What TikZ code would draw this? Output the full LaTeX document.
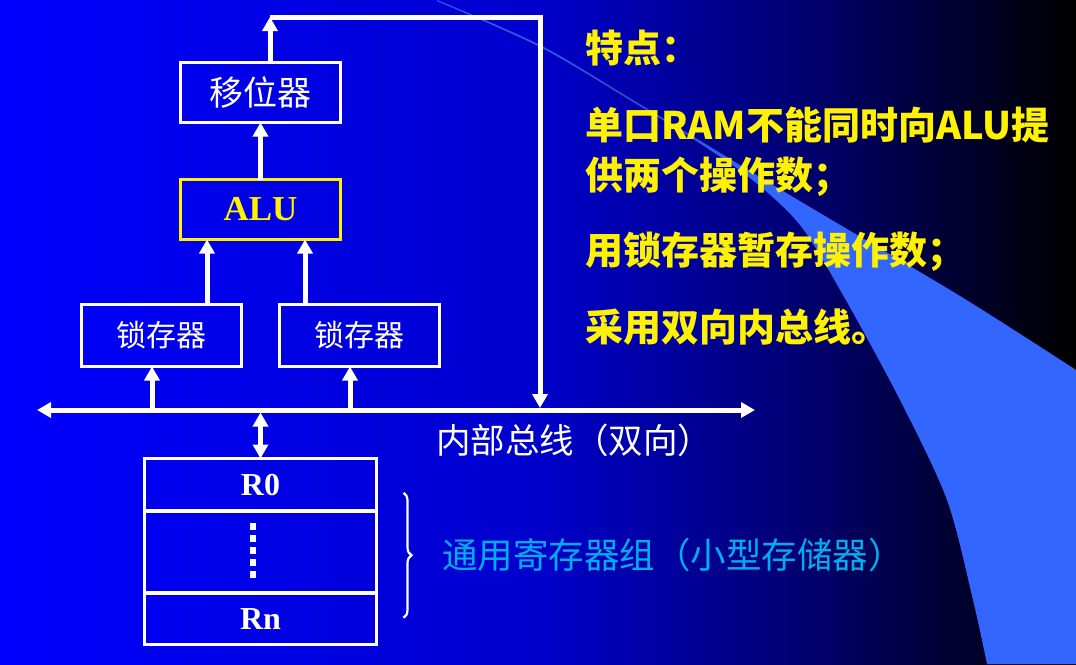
\documentclass[tikz,border=0pt]{standalone}
\usepackage{fontspec}
\setmainfont{Liberation Serif}
\newfontfamily\cjk{Noto Sans CJK SC}
\usetikzlibrary{positioning,arrows.meta,decorations.pathreplacing}

\pgfdeclarehorizontalshading{bgshade}{100bp}{rgb(0bp)=(0,0,1); rgb(25bp)=(0,0,1); rgb(50bp)=(0,0,0.8); rgb(62bp)=(0,0,0.45); rgb(72bp)=(0,0,0.1); rgb(75bp)=(0,0,0); rgb(100bp)=(0,0,0)}
\pgfdeclarehorizontalshading{beamshade}{100bp}{rgb(0bp)=(0.2,0.4,0.95); rgb(25bp)=(0.2,0.4,0.95); rgb(40bp)=(0.16,0.31,0.78); rgb(51bp)=(0.2,0.4,1); rgb(100bp)=(0.2,0.4,1)}

\begin{document}
\begin{tikzpicture}[x=1pt,y=-1pt]
        % Styles for the boxes and arrows
        \tikzset{
            box/.style={draw=white, line width=3.2pt, inner sep=0pt, outer sep=0pt, minimum width=160pt, minimum height=60pt, text=white},
            regrow/.style={box, minimum width=232pt},
            flow/.style={white, line width=5pt, -{Triangle[length=14pt,width=15pt]}},
            both/.style={{Triangle[length=14pt,width=15pt]}-{Triangle[length=14pt,width=15pt]}},
            hint/.style={anchor=west, inner sep=0pt, text=yellow, font=\cjk\bfseries\fontsize{38}{50}\selectfont}
        }

        % --- BACKGROUND ---
        \useasboundingbox (0,0) rectangle (1076,664);
        \shade[shading=bgshade] (0,0) rectangle (1076,664);
        \shade[shading=beamshade] plot[smooth] coordinates {(437,0) (540,45) (633,100) (793,197) (960,296) (1076,370)}
            -- (1076,664) -- plot[smooth] coordinates {(987,664) (973,600) (947,500) (900,400) (843,295) (800,225) (750,178) (690,137) (633,102) (540,47) (437,1)} -- cycle;

        % --- DATA PATH ---
        \node[box, font=\cjk\fontsize{34}{34}\selectfont] (shifter) at (260.5,92.5) {移位器};
        \node[box, draw=yellow, text=yellow, font=\bfseries\fontsize{35}{35}\selectfont] (alu) at (260.5,209.5) {ALU};
        \node[box, minimum height=62pt, font=\cjk\fontsize{30}{30}\selectfont] (latchA) at (161.5,335.5) {锁存器};
        \node[box, minimum height=62pt, font=\cjk\fontsize{30}{30}\selectfont] (latchB) at (359.5,335.5) {锁存器};

        \draw[flow] (alu.north) -- (shifter.south);
        \draw[flow] ([xshift=45.5pt]latchA.north) -- ([xshift=-53.5pt]alu.south);
        \draw[flow] ([xshift=-54.5pt]latchB.north) -- ([xshift=44.5pt]alu.south);

        % --- INTERNAL BUS ---
        \coordinate (busL) at (37,410);
        \coordinate (busR) at (755,410);
        \coordinate (tapA) at (152,410);
        \coordinate (tapB) at (350,410);
        \coordinate (tapR) at (260.5,412.5);
        \coordinate (loopTop) at (270,17);
        \coordinate (loopBus) at (540,408);
        \draw[flow, both] (busL) -- (busR);
        \draw[flow] (tapA) -- (tapA |- latchA.south);
        \draw[flow] (tapB) -- (tapB |- latchB.south);
        \draw[flow] ([xshift=9.5pt]shifter.north) -- (loopTop);
        \draw[flow] (loopTop) -| (loopBus);
        \node[anchor=west, inner sep=0pt, text=white, font=\cjk\fontsize{34.5}{34.5}\selectfont] (busLabel) at (436,440) {内部总线（双向）};

        % --- REGISTER FILE ---
        \node[regrow, minimum height=52.5pt, font=\bfseries\fontsize{32}{32}\selectfont] (r0) at (260.5,484.75) {R0};
        \node[regrow, minimum height=82pt, below=0pt of r0] (mid) {};
        \node[regrow, minimum height=51.5pt, below=0pt of mid, font=\bfseries\fontsize{32}{32}\selectfont] (rn) {Rn};
        \draw[white, line width=6pt, dash pattern=on 7pt off 5pt] ([xshift=-8pt,yshift=-12pt]mid.north) -- ([xshift=-8pt,yshift=12pt]mid.south);
        \draw[flow, both] (tapR) -- (r0.north);
        \draw[white, line width=2.2pt, decorate, decoration={brace, amplitude=8pt}] ([xshift=27pt,yshift=-8pt]r0.east) -- ([xshift=27pt,yshift=1pt]rn.east);
        \node[anchor=west, inner sep=0pt, text=cyan, font=\cjk\fontsize{35.5}{35.5}\selectfont] (group) at (442,555) {通用寄存器组（小型存储器）};

        % --- FEATURES ---
        \node[hint] (feat) at (585,48) {特点：};
        \node[hint, align=left] (point1) at (585,152) {单口RAM不能同时向ALU提\\供两个操作数；};
        \node[hint] (point2) at (585,252) {用锁存器暂存操作数；};
        \node[hint] (point3) at (585,327) {采用双向内总线。};
    \end{tikzpicture}
\end{document}
